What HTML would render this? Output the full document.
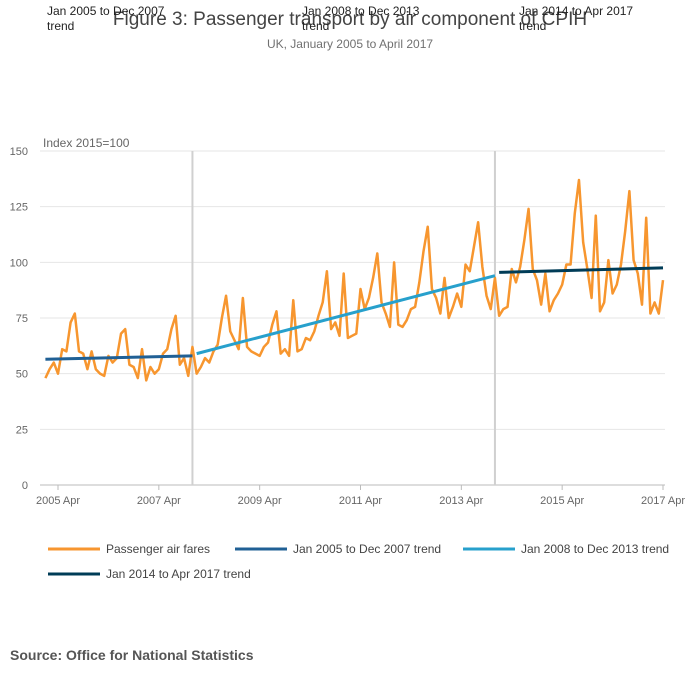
<!DOCTYPE html>
<html><head><meta charset="utf-8"><style>
body{margin:0;background:#fff;font-family:"Liberation Sans",sans-serif;}
svg text{font-family:"Liberation Sans",sans-serif;}
</style></head><body>
<svg width="700" height="682">
<text x="350" y="25" text-anchor="middle" font-size="19" fill="#444">Figure 3: Passenger transport by air component of CPIH</text>
<text x="350" y="48" text-anchor="middle" font-size="12" fill="#707070">UK, January 2005 to April 2017</text>
<text x="43" y="147" font-size="12" fill="#666">Index 2015=100</text>
<g id="grid"></g><g id="marks"></g><g id="axes"></g>
<g font-size="12" fill="#222">
<text x="47" y="15">Jan 2005 to Dec 2007</text><text x="47" y="30">trend</text>
<text x="302" y="15">Jan 2008 to Dec 2013</text><text x="302" y="30">trend</text>
<text x="519" y="15">Jan 2014 to Apr 2017</text><text x="519" y="30">trend</text>
</g>
<g font-size="12" fill="#444">
<g><line x1="48" y1="549" x2="100" y2="549" stroke="#f7962f" stroke-width="3"/><text x="106" y="553">Passenger air fares</text></g>
<g><line x1="235" y1="549" x2="287" y2="549" stroke="#206095" stroke-width="3"/><text x="293" y="553">Jan 2005 to Dec 2007 trend</text></g>
<g><line x1="463" y1="549" x2="515" y2="549" stroke="#27a0cc" stroke-width="3"/><text x="521" y="553">Jan 2008 to Dec 2013 trend</text></g>
<g><line x1="48" y1="574" x2="100" y2="574" stroke="#003c57" stroke-width="3"/><text x="106" y="578">Jan 2014 to Apr 2017 trend</text></g>
</g>
<text x="10" y="660" font-size="14" font-weight="bold" fill="#555">Source: Office for National Statistics</text>
</svg>
<script>
const fares=[48,52,55,50,61,60,73,77,60,59,52,60,52,50,49,58,55,57,68,70,54,53,48,61,47,53,50,52,59,61,70,76,54,57,49,62,
50,53,57,55,60,63,75,85,69,65,61,84,62,60,59,58,62,64,72,78,59,61,58,83,60,61,66,65,69,76,82,96,70,73,67,95,
66,67,68,88,79,84,93,104,82,77,71,100,72,71,74,79,80,91,105,116,88,84,77,93,75,80,86,80,99,96,107,118,98,85,79,93,
76,79,80,97,91,98,110,124,97,92,81,95,78,83,86,90,99,99,122,137,109,97,84,121,78,82,101,86,90,99,114,132,101,95,81,120,77,82,77,92];
const trendStartIdx=[0,36,108];
const trendEndIdx=[35,107,147];
const trendStartVal=[56.5,59,95.5];
const trendEndVal=[58,94,97.5];
const trendColors=["#206095","#27a0cc","#003c57"];
const yTicks=[0,25,50,75,100,125,150];
const xTickIdx=[3,27,51,75,99,123,147];
const xTickLabels=["2005 Apr","2007 Apr","2009 Apr","2011 Apr","2013 Apr","2015 Apr","2017 Apr"];
const dividerIdx=[35,107];
const NS="http://www.w3.org/2000/svg";
const x=i=>45.4+i*(663-45.4)/147;
const y=v=>485-v*(485-151)/150;
function mk(t,a,p){const e=document.createElementNS(NS,t);for(const k in a)e.setAttribute(k,a[k]);p.appendChild(e);return e;}
const grid=document.getElementById('grid'),marks=document.getElementById('marks'),axes=document.getElementById('axes');
yTicks.forEach(v=>{
 const l=mk('line',{x1:40,x2:665,y1:y(v),y2:y(v),stroke:v===0?'#bbb':'#e6e6e6','stroke-width':1},grid);
 
 
 const t=mk('text',{x:28,y:y(v)+4,'text-anchor':'end','font-size':11,fill:'#666'},axes);t.textContent=v;
 
 
});
xTickIdx.forEach((i,k)=>{
 mk('line',{x1:x(i),x2:x(i),y1:485,y2:490,stroke:'#bbb'},axes);
 const t=mk('text',{x:x(i),y:504,'text-anchor':'middle','font-size':11,fill:'#666'},axes);t.textContent=xTickLabels[k];
 
 
});
dividerIdx.forEach((i,k)=>{
 const l=mk('line',{x1:x(i),x2:x(i),y1:151,y2:485,stroke:'#d0d0d0','stroke-width':2},grid);
 
 
});
const p=mk('polyline',{points:fares.map((v,i)=>x(i)+','+y(v)).join(' '),fill:'none',stroke:'#f7962f','stroke-width':2.5,'stroke-linejoin':'round'},marks);


trendStartIdx.forEach((s,k)=>{
 const l=mk('line',{x1:x(s),y1:y(trendStartVal[k]),x2:x(trendEndIdx[k]),y2:y(trendEndVal[k]),stroke:trendColors[k],'stroke-width':3},marks);
 
 
});
</script>
</body></html>
